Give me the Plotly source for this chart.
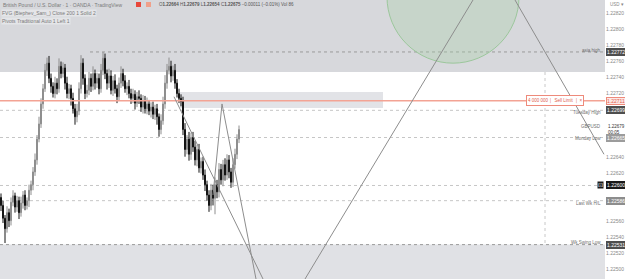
import plotly.graph_objects as go

# ---------------- data ----------------
closes = [
    1.22580, 1.22564, 1.22551, 1.22571, 1.22561, 1.22584, 1.22592, 1.22578, 1.22586, 1.22571,
    1.22583, 1.22593, 1.22580, 1.22586, 1.22599, 1.22606, 1.22622, 1.22637, 1.22663, 1.22682,
    1.22707, 1.22726, 1.22749, 1.22758, 1.22739, 1.22729, 1.22720, 1.22733, 1.22726, 1.22754,
    1.22745, 1.22752, 1.22733, 1.22720, 1.22726, 1.22714, 1.22701, 1.22691, 1.22698, 1.22726,
    1.22758, 1.22739, 1.22720, 1.22724, 1.22739, 1.22729, 1.22745, 1.22733, 1.22739, 1.22726,
    1.22749, 1.22764, 1.22745, 1.22733, 1.22742, 1.22724, 1.22736, 1.22726, 1.22716, 1.22733,
    1.22745, 1.22736, 1.22726, 1.22729, 1.22720, 1.22714, 1.22719, 1.22708, 1.22716, 1.22714,
    1.22703, 1.22711, 1.22701, 1.22707, 1.22698, 1.22703, 1.22694, 1.22701, 1.22691, 1.22675,
    1.22686, 1.22707, 1.22733, 1.22749, 1.22754, 1.22742, 1.22749, 1.22733, 1.22720, 1.22714,
    1.22710, 1.22675, 1.22650, 1.22663, 1.22644, 1.22665, 1.22653, 1.22637, 1.22650, 1.22627,
    1.22635, 1.22618, 1.22606, 1.22593, 1.22580, 1.22599, 1.22589, 1.22606, 1.22597, 1.22625,
    1.22612, 1.22631, 1.22618, 1.22637, 1.22622, 1.22609, 1.22631, 1.22644, 1.22663, 1.22675,
]
first_open = 1.22590
# wick lengths in points (0.00001)
upper_wicks = [
    5, 6, 4, 8, 5, 6, 7, 4, 6, 5, 8, 5, 6, 4, 7, 5, 6, 8, 5, 9,
    7, 6, 8, 7, 9, 6, 5, 8, 6, 10, 6, 7, 5, 8, 6, 5, 7, 6, 9, 8,
    10, 6, 5, 7, 8, 6, 9, 5, 7, 6, 8, 8, 6, 5, 9, 7, 6, 8, 5, 7,
    9, 6, 7, 5, 8, 6, 7, 5, 6, 8, 5, 7, 6, 8, 5, 6, 7, 5, 6, 4,
    8, 9, 10, 8, 11, 7, 6, 8, 5, 6, 5, 6, 8, 5, 9, 6, 7, 8, 6, 7,
    5, 6, 7, 5, 6, 8, 7, 9, 6, 8, 7, 6, 8, 7, 6, 5, 8, 7, 6, 5,
]
lower_wicks = [
    7, 6, 18, 5, 8, 6, 5, 7, 6, 8, 5, 7, 6, 5, 8, 6, 7, 5, 6, 4,
    5, 6, 4, 7, 6, 8, 5, 6, 7, 5, 6, 5, 8, 6, 7, 9, 6, 10, 7, 5,
    6, 8, 7, 5, 6, 7, 5, 8, 6, 7, 5, 6, 7, 8, 6, 5, 7, 6, 8, 5,
    6, 7, 5, 8, 6, 7, 6, 8, 5, 7, 6, 8, 6, 7, 5, 8, 6, 7, 10, 9,
    6, 5, 6, 7, 5, 8, 6, 7, 5, 6, 6, 7, 9, 6, 8, 7, 6, 7, 8, 6,
    7, 6, 8, 7, 8, 6, 9, 20, 8, 7, 6, 8, 7, 6, 8, 7, 6, 5, 6, 5,
]

# horizontal levels (price, start bar)
level_prices = [1.22772, 1.22699, 1.22665, 1.22605, 1.22586, 1.22531]
level_starts = [44.5, -0.5, -0.5, -0.5, -0.5, -0.5]
sell_limit_price = 1.22711
gbpusd_last = 1.22679

# zones: (bar0, bar1, price_low, price_high)
zone_top = (-0.5, 302.0, 1.22747, 1.22900)
zone_mid = (89.5, 191.0, 1.22702, 1.22722)
zone_bot = (-0.5, 302.0, 1.22400, 1.22531)

# drawings: (bar0, price0, bar1, price1)
trend_lines = [
    (86.5, 1.22716, 131.0, 1.22488),
    (106.0, 1.22593, 110.5, 1.22707),
    (110.5, 1.22707, 127.5, 1.22488),
    (152.0, 1.22488, 236.0, 1.22837),
    (257.0, 1.22837, 301.5, 1.22644),
]
circle_box = (193.0, 259.0, 1.22758, 1.22924)
vline_bar = 272.0

tick_prices = [1.22820, 1.22800, 1.22780, 1.22760, 1.22740, 1.22720,
               1.22640, 1.22620, 1.22560, 1.22540, 1.22520, 1.22500]

# ---------------- build ----------------
n = len(closes)
xs = list(range(n))
opens = [first_open] + closes[:-1]
highs = [max(o, c) + w / 100000 for o, c, w in zip(opens, closes, upper_wicks)]
lows = [min(o, c) - w / 100000 for o, c, w in zip(opens, closes, lower_wicks)]

FONT = "Liberation Sans, Arial, sans-serif"
fig = go.Figure()

shapes = []
def rect(z, color):
    shapes.append(dict(type="rect", xref="x", yref="y", x0=z[0], x1=z[1], y0=z[2], y1=z[3],
                       fillcolor=color, line=dict(width=0), layer="below"))
rect(zone_top, "#d7d8dc")
rect(zone_bot, "#e0e1e5")
rect(zone_mid, "#e2e3e7")

for p, s in zip(level_prices, level_starts):
    dark = p in (1.22772, 1.22531)
    shapes.append(dict(type="line", xref="x", yref="y", x0=s, x1=302.0, y0=p, y1=p,
                       line=dict(color="#9a9a9a" if dark else "#c6c6c6", width=1, dash="dot"),
                       layer="below"))
shapes.append(dict(type="line", xref="x", yref="paper", x0=vline_bar, x1=vline_bar, y0=0, y1=1,
                   line=dict(color="#c8c8c8", width=1, dash="dot"), layer="below"))
shapes.append(dict(type="line", xref="paper", yref="y", x0=0, x1=1, y0=sell_limit_price,
                   y1=sell_limit_price, line=dict(color="#f3a394", width=1.5)))
shapes.append(dict(type="circle", xref="x", yref="y", x0=circle_box[0], x1=circle_box[1],
                   y0=circle_box[2], y1=circle_box[3],
                   fillcolor="rgba(170,210,170,0.35)", line=dict(color="#9cc79c", width=1)))
for (a, b, c, d) in trend_lines:
    shapes.append(dict(type="line", xref="x", yref="y", x0=a, y0=b, x1=c, y1=d,
                       line=dict(color="#8d8d8d", width=1)))

fig.add_trace(go.Candlestick(
    x=xs, open=opens, high=highs, low=lows, close=closes,
    increasing=dict(line=dict(color="#8e8e8e", width=1), fillcolor="#8e8e8e"),
    decreasing=dict(line=dict(color="#141414", width=1), fillcolor="#141414"),
    hoverinfo="skip", showlegend=False,
))

ann = []
def axis_box(price, text, bg, fg="#ffffff", border=None):
    ann.append(dict(xref="paper", yref="y", x=1, y=price, xanchor="left", yanchor="middle",
                    text=text, showarrow=False, font=dict(size=5, color=fg, family=FONT),
                    bgcolor=bg, bordercolor=border or bg, borderwidth=1, borderpad=0, xshift=1))

def side_text(price, text, yshift=0):
    ann.append(dict(xref="paper", yref="y", x=1, y=price, xanchor="right", yanchor="middle",
                    text=text, showarrow=False, font=dict(size=4.5, color="#6e6e6e", family=FONT),
                    xshift=-2, yshift=yshift))

axis_box(1.22772, "1.22772", "#4e4e4e")
side_text(1.22772, "asia high", 1)
axis_box(sell_limit_price, "1.22711", "#fde9e6", "#e0604f", "#ee8a7b")
axis_box(1.22699, "1.22699", "#4e4e4e")
side_text(1.22699, "Tuesday High", -2)
ann.append(dict(xref="paper", yref="y", x=1, y=gbpusd_last, xanchor="left", yanchor="middle",
                text="1.22679<br>00:05", showarrow=False, align="left",
                font=dict(size=4.5, color="#333333", family=FONT), xshift=1, yshift=-3))
side_text(gbpusd_last, "GBPUSD")
axis_box(1.22665, "1.22665", "#9c9c9c")
side_text(1.22665, "Monday Low", -1)
axis_box(1.22605, "1.22600", "#1a1a1a")
ann.append(dict(xref="paper", yref="y", x=1, y=1.22605, xanchor="right", yanchor="middle",
                text="⊡", showarrow=False, font=dict(size=6, color="#ffffff", family=FONT),
                bgcolor="#1a1a1a", borderpad=0, xshift=-1))
axis_box(1.22586, "1.22586", "#8d8d8d")
side_text(1.22586, "Last Wk H/L", -3)
axis_box(1.22531, "1.22531", "#4e4e4e")
side_text(1.22531, "Wk Swing Low", 2)
ann.append(dict(xref="paper", yref="y", x=555 / 605, y=sell_limit_price, xanchor="center",
                yanchor="middle", text="4 000 000 │  Sell Limit  │ ×", showarrow=False,
                font=dict(size=4.5, color="#e0604f", family=FONT), bgcolor="#ffffff",
                bordercolor="#ee8a7b", borderwidth=1, borderpad=1))
ann.append(dict(xref="paper", yref="paper", x=1, y=1, xanchor="left", yanchor="top",
                text="USD ▾", showarrow=False, font=dict(size=4.5, color="#888888", family=FONT),
                xshift=3))

hdr_font = dict(size=5, color="#7a7a7a", family=FONT)
ann.append(dict(xref="paper", yref="paper", x=0, y=1, xanchor="left", yanchor="top",
                text="British Pound / U.S. Dollar · 1 · OANDA · TradingView", showarrow=False,
                font=hdr_font, xshift=1, yshift=0))
ann.append(dict(xref="paper", yref="paper", x=157 / 605, y=1, xanchor="left", yanchor="top",
                text="O<b>1.22664</b> H<b>1.22679</b> L<b>1.22654</b> C<b>1.22675</b> −0.00011 (−0.01%) Vol 86",
                showarrow=False, font=dict(size=4.5, color="#555555", family=FONT)))
ann.append(dict(xref="paper", yref="paper", x=0, y=1, xanchor="left", yanchor="top",
                text="FVG (Biephev_Sam_) Close 200 1 Solid 2", showarrow=False, font=hdr_font,
                bgcolor="#e4e5e8", borderpad=0, xshift=1, yshift=-9))
ann.append(dict(xref="paper", yref="paper", x=0, y=1, xanchor="left", yanchor="top",
                text="Pivots Traditional Auto 1 Left 1", showarrow=False, font=hdr_font,
                bgcolor="#e4e5e8", borderpad=0, xshift=1, yshift=-17))
shapes.append(dict(type="rect", xref="paper", yref="paper", x0=136 / 605, x1=141 / 605,
                   y0=1 - 7 / 279, y1=1 - 2 / 279, fillcolor="#e8473a", line=dict(width=0)))
shapes.append(dict(type="rect", xref="paper", yref="paper", x0=146 / 605, x1=151 / 605,
                   y0=1 - 7 / 279, y1=1 - 2 / 279, fillcolor="#f0a08a", line=dict(width=0)))

fig.update_layout(
    width=625, height=279,
    margin=dict(l=0, r=20, t=0, b=0),
    paper_bgcolor="#ffffff", plot_bgcolor="#ffffff",
    shapes=shapes, annotations=ann,
    xaxis=dict(range=[-0.5, 302.0], showgrid=False, zeroline=False, showticklabels=False,
               rangeslider=dict(visible=False), fixedrange=True),
    yaxis=dict(range=[1.22488, 1.22837], side="right", showgrid=False, zeroline=False,
               tickvals=tick_prices, ticktext=[f"{v:.5f}" for v in tick_prices],
               tickfont=dict(size=5, color="#8a8a8a", family=FONT), ticks="",
               showline=False, fixedrange=True),
    font=dict(family=FONT),
)

fig.write_html("out.html")
